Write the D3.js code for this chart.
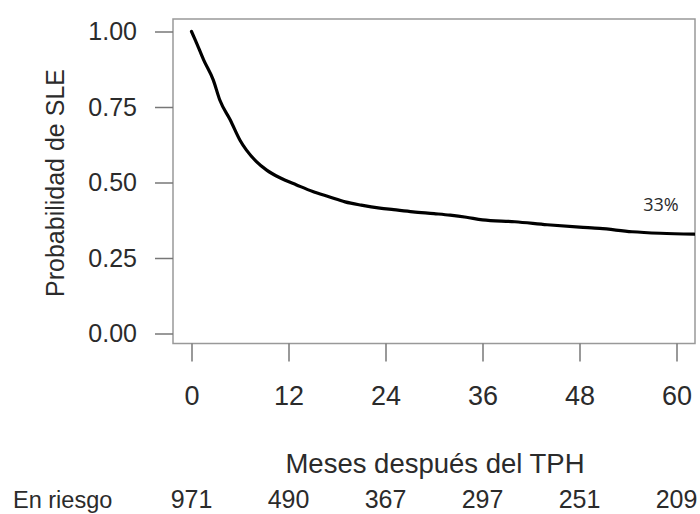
<!DOCTYPE html>
<html>
<head>
<meta charset="utf-8">
<script src="https://cdn.jsdelivr.net/npm/d3@7"></script>
<style>
  body { margin: 0; background: #fff; }
  svg text { font-family: "Liberation Sans", Arial, sans-serif; fill: #2b2b2b; }
</style>
</head>
<body>
<svg id="chart" width="700" height="514"></svg>
<script>
(function(){
    // curve (months, survival probability)
    var months = [0, 0.5, 1.5, 2.7, 3.5, 4.8, 6.0, 6.8, 8, 9.3, 11, 13, 15, 17, 19, 21, 23.3, 25, 27.4, 30, 32, 34, 36, 40, 44, 48, 50.5, 54.5, 58, 62.2];
    var surv   = [1.0, 0.97, 0.906, 0.839, 0.773, 0.707, 0.64, 0.607, 0.57, 0.541, 0.515, 0.492, 0.47, 0.453, 0.436, 0.425, 0.415, 0.41, 0.403, 0.397, 0.392, 0.385, 0.376, 0.37, 0.36, 0.352, 0.348, 0.337, 0.332, 0.329];

    var xTicks = [0, 12, 24, 36, 48, 60];
    var yTicks = [0, 0.25, 0.5, 0.75, 1];
    var atRisk = [971, 490, 367, 297, 251, 209];
    var endLabel = '33%';

    var box = {l: 173, t: 19, r: 695, b: 343.5};
    var axCol = '#777';

    var svg = d3.select('#chart');

    var x = d3.scaleLinear().domain([0, 60]).range([191.5, 676.5]);
    var y = d3.scaleLinear().domain([0, 1]).range([333.5, 31.5]);

    // plot box
    svg.append('rect')
        .attr('x', box.l).attr('y', box.t)
        .attr('width', box.r - box.l).attr('height', box.b - box.t)
        .style('fill', 'none')
        .style('stroke', '#999')
        .style('stroke-width', 1.5);

    // y axis
    var yAxis = svg.append('g')
        .attr('transform', 'translate(' + box.l + ',0)')
        .call(d3.axisLeft(y).tickValues(yTicks).tickSize(18).tickPadding(18)
            .tickFormat(d3.format('.2f')));
    yAxis.select('.domain').remove();
    yAxis.selectAll('line').style('stroke', axCol).style('stroke-width', 1.5);
    yAxis.selectAll('text')
        .style('font-size', '25px')
        .style('font-family', '"Liberation Sans", Arial, sans-serif')
        .style('fill', '#2b2b2b');

    // x axis
    var xAxis = svg.append('g')
        .attr('transform', 'translate(0,' + box.b + ')')
        .call(d3.axisBottom(x).tickValues(xTicks).tickSize(18).tickPadding(24));
    xAxis.select('.domain').remove();
    xAxis.selectAll('line').style('stroke', axCol).style('stroke-width', 1.5);
    xAxis.selectAll('text')
        .style('font-size', '27px')
        .style('font-family', '"Liberation Sans", Arial, sans-serif')
        .style('fill', '#2b2b2b');

    // survival curve, clipped to the box
    svg.append('clipPath').attr('id', 'clip')
        .append('rect')
        .attr('x', box.l).attr('y', box.t)
        .attr('width', box.r - box.l).attr('height', box.b - box.t);

    var pts = months.map(function(m, i){ return [m, surv[i]]; });
    svg.append('path')
        .datum(pts)
        .attr('clip-path', 'url(#clip)')
        .attr('d', d3.line()
            .curve(d3.curveMonotoneX)
            .x(function(d){ return x(d[0]); })
            .y(function(d){ return y(d[1]); }))
        .style('fill', 'none')
        .style('stroke', '#000')
        .style('stroke-width', 3.2)
        .style('stroke-linejoin', 'round')
        .style('stroke-linecap', 'round');

    // end value label
    svg.append('text')
        .attr('x', 661).attr('y', 211)
        .attr('text-anchor', 'middle')
        .style('font-family', '"Open Sans", sans-serif')
        .style('font-size', '18px')
        .text(endLabel);

    // axis titles
    svg.append('text')
        .attr('transform', 'translate(64,183) rotate(-90)')
        .attr('text-anchor', 'middle')
        .style('font-size', '25px')
        .text('Probabilidad de SLE');

    svg.append('text')
        .attr('x', 435).attr('y', 473)
        .attr('text-anchor', 'middle')
        .style('font-size', '27.5px')
        .text('Meses después del TPH');

    // numbers at risk
    svg.append('text')
        .attr('x', 13).attr('y', 508)
        .style('font-size', '23.5px')
        .text('En riesgo');

    svg.selectAll('.risk')
        .data(atRisk)
        .enter().append('text')
        .attr('class', 'risk')
        .attr('x', function(d, i){ return x(xTicks[i]); })
        .attr('y', 508)
        .attr('text-anchor', 'middle')
        .style('font-size', '25px')
        .text(function(d){ return d; });
})();
</script>
</body>
</html>
